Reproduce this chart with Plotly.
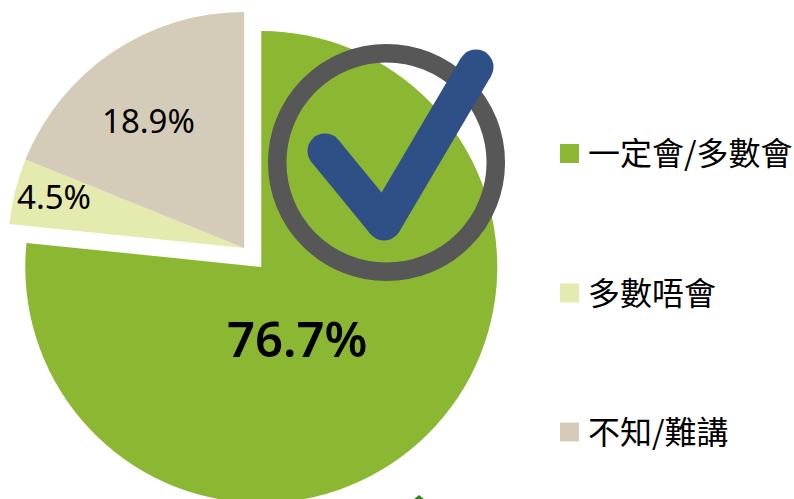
import plotly.graph_objects as go

categories = ["一定會/多數會", "多數唔會", "不知/難講"]
values = [76.7, 4.5, 18.9]
colors = ["#8BB733", "#E5EAAE", "#D4CCB8"]
pulls = [0.108, 0, 0]

FW, FH = 840, 540
OX, OY = 20, 20
def px(x): return (x + OX) / FW
def py(y): return 1 - (y + OY) / FH

CX, CY, HALF = 244.2, 248, 236 * 1.108

fig = go.Figure(go.Pie(
    labels=categories, values=values, sort=False, direction="clockwise", rotation=0,
    pull=pulls, marker=dict(colors=colors, line=dict(width=0)),
    textinfo="none", hoverinfo="skip", showlegend=False,
    domain=dict(x=[px(CX - HALF), px(CX + HALF)], y=[py(CY + HALF), py(CY - HALF)]),
))

FONT = "'Noto Sans', 'Noto Sans CJK TC', sans-serif"
CJK = "'Noto Sans CJK TC', 'Noto Sans', sans-serif"

shapes = []
annotations = []

# percentage labels
label_pos = [(297, 338, 49, 600), (54, 196, 33, 400), (148, 120, 33, 400)]
for v, (x, y, s, w) in zip(values, label_pos):
    annotations.append(dict(x=px(x), y=py(y), xref="paper", yref="paper", text=f"{v}%",
                            showarrow=False, xanchor="center", yanchor="middle",
                            font=dict(family=FONT, size=s, color="#000000", weight=w)))

# legend
legend_y = [151, 291, 430]
square_y = [153.5, 293, 432]
for cat, col, y, sy in zip(categories, colors, legend_y, square_y):
    shapes.append(dict(type="rect", xref="paper", yref="paper", x0=px(560), x1=px(579), y0=py(sy - 9.5), y1=py(sy + 9.5),
                       fillcolor=col, line=dict(width=0)))
    annotations.append(dict(x=px(586), y=py(y), xref="paper", yref="paper", text=cat, showarrow=False,
                            xanchor="left", yanchor="middle", font=dict(family=CJK, size=32, color="#000000")))

# tick-in-a-ring emblem
RCX, RCY, RR = 386.5, 162.5, 109.3
shapes.append(dict(type="circle", xref="paper", yref="paper", x0=px(RCX - RR), x1=px(RCX + RR),
                   y0=py(RCY - RR), y1=py(RCY + RR), line=dict(color="#575757", width=18.5), fillcolor="rgba(0,0,0,0)"))
tick = [(325, 151), (384, 223), (476, 67)]
BLUE, TW = "#2F5086", 35
for (a, b) in zip(tick[:-1], tick[1:]):
    shapes.append(dict(type="line", xref="paper", yref="paper", x0=px(a[0]), y0=py(a[1]), x1=px(b[0]), y1=py(b[1]),
                       line=dict(color=BLUE, width=TW)))
for (x, y) in tick:
    shapes.append(dict(type="circle", xref="paper", yref="paper", x0=px(x - TW / 2), x1=px(x + TW / 2),
                       y0=py(y - TW / 2), y1=py(y + TW / 2), fillcolor=BLUE, line=dict(width=0)))

# small dark-green fragment at the bottom edge
shapes.append(dict(type="path", xref="paper", yref="paper",
                   path=f"M {px(419)} {py(495)} L {px(425)} {py(500)} L {px(413)} {py(500)} Z",
                   fillcolor="#3F7A2A", line=dict(width=0)))

fig.update_layout(width=FW, height=FH, margin=dict(l=0, r=0, t=0, b=0), autosize=False,
                  paper_bgcolor="#FFFFFF", plot_bgcolor="#FFFFFF", shapes=shapes, annotations=annotations)

post = f"""
document.documentElement.style.overflow='hidden';
document.body.style.overflow='hidden';
document.body.style.margin='0';
var gd=document.getElementById('{{plot_id}}');
gd.style.position='absolute';gd.style.left='-{OX}px';gd.style.top='-{OY}px';
"""
fig.write_html("out.html", post_script=post, config=dict(displayModeBar=False))
